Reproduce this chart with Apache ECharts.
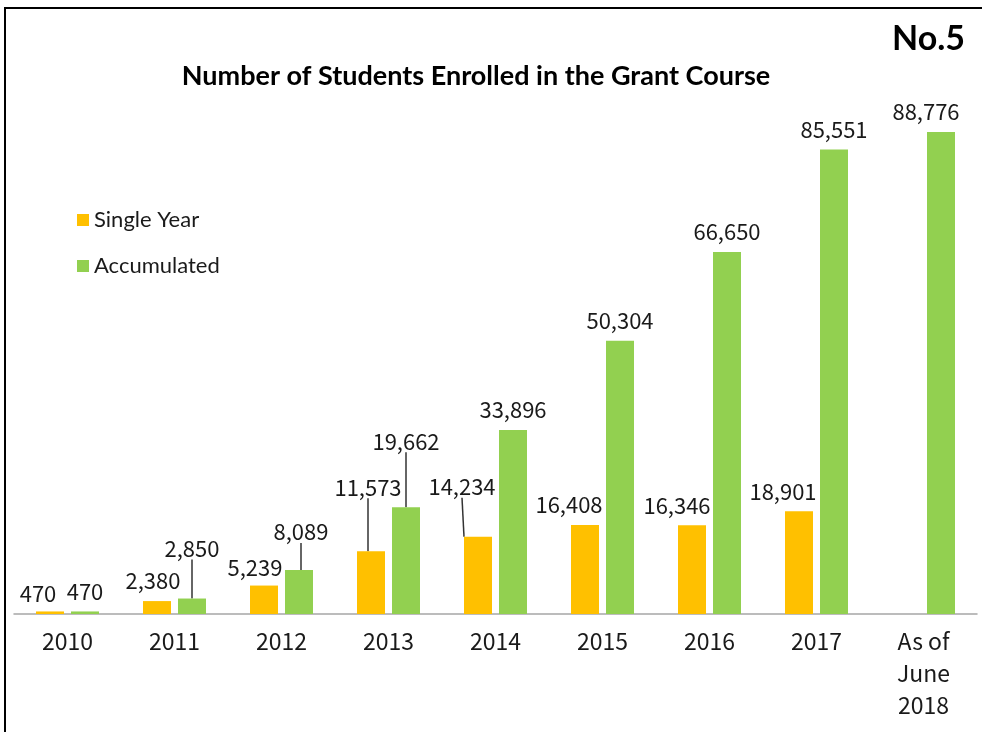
<!DOCTYPE html>
<html>
<head>
<meta charset="utf-8">
<script src="https://cdn.jsdelivr.net/npm/echarts@6/dist/echarts.min.js"></script>
<style>
    html, body { margin: 0; padding: 0; background: #fff; }
    #frame {
        position: absolute; left: 4px; top: 7px; width: 990px; height: 740px;
        border-left: 2px solid #000; border-top: 2px solid #000;
    }
    #chart { position: absolute; left: 0; top: 0; width: 982px; height: 732px; }
</style>
</head>
<body>
<div id="frame"></div>
<div id="chart"></div>
<script>
    var categories  = ['2010', '2011', '2012', '2013', '2014', '2015', '2016', '2017', 'As of\nJune\n2018'];
    var singleYear  = [470, 2380, 5239, 11573, 14234, 16408, 16346, 18901, null];
    var accumulated = [470, 2850, 8089, 19662, 33896, 50304, 66650, 85551, 88776];

    // label nudges (dx, dy, leader line) per series / category index
    var nudges = {
        0: { 0: [-12, 2], 1: [-4, 0], 2: [-9, 2], 3: [-3, -44, true], 4: [-16, -30, true], 5: [-16, 0], 6: [-15, 0], 7: [-16, 0] },
        1: { 1: [0, -30, true], 2: [2, -18, true], 3: [0, -46, true], 8: [-15, 0] }
    };

    function items(values, s) {
        return values.map(function (v, i) {
            var n = nudges[s][i];
            return { value: v, labelLine: { show: !!(n && n[2]) } };
        });
    }

    var labelFont = { show: true, position: 'top', distance: 9, color: '#1a1a1a', fontSize: 22,
        fontFamily: 'Noto Sans CJK JP',
        formatter: function (p) { return p.value == null ? '' : p.value.toLocaleString('en-US'); } };

    var myChart = echarts.init(document.getElementById('chart'));
    var option = {
        animation: false,
        title: [{
            text: 'Number of Students Enrolled in the Grant Course',
            left: 471, top: 58, textAlign: 'center',
            textStyle: { fontFamily: 'Lato', fontWeight: 'bold', fontSize: 27, color: '#000' }
        }, {
            text: 'No.5',
            right: 12, top: 17,
            textStyle: { fontFamily: 'Lato', fontWeight: 'bold', fontSize: 34, color: '#000' }
        }],
        legend: {
            orient: 'vertical', left: 77, top: 207, itemWidth: 12, itemHeight: 12, itemGap: 20,
            icon: 'rect', padding: 0,
            textStyle: { fontFamily: 'Lato', fontSize: 22, color: '#1a1a1a', lineHeight: 26 },
            data: ['Single Year', 'Accumulated']
        },
        grid: { left: 14, right: 5, top: 71, bottom: 118 },
        xAxis: {
            type: 'category',
            data: categories,
            axisLine: { lineStyle: { color: '#a6a6a6', width: 1.5 } },
            axisTick: { show: false },
            axisLabel: { interval: 0, margin: 11, color: '#1a1a1a', fontSize: 23, lineHeight: 32,
                fontFamily: 'Noto Sans CJK JP' }
        },
        yAxis: { type: 'value', min: 0, max: 100000, show: false, splitLine: { show: false } },
        series: [{
            name: 'Single Year', type: 'bar', barWidth: 28, barGap: '25%',
            itemStyle: { color: '#FFC000' },
            label: labelFont,
            labelLine: { lineStyle: { color: '#333', width: 1.5 } },
            labelLayout: function (p) { var n = nudges[0][p.dataIndex]; return n ? { dx: n[0], dy: n[1] } : {}; },
            data: items(singleYear, 0)
        }, {
            name: 'Accumulated', type: 'bar', barWidth: 28,
            itemStyle: { color: '#92D050' },
            label: labelFont,
            labelLine: { lineStyle: { color: '#333', width: 1.5 } },
            labelLayout: function (p) { var n = nudges[1][p.dataIndex]; return n ? { dx: n[0], dy: n[1] } : {}; },
            data: items(accumulated, 1)
        }]
    };
    myChart.setOption(option);
</script>
</body>
</html>
